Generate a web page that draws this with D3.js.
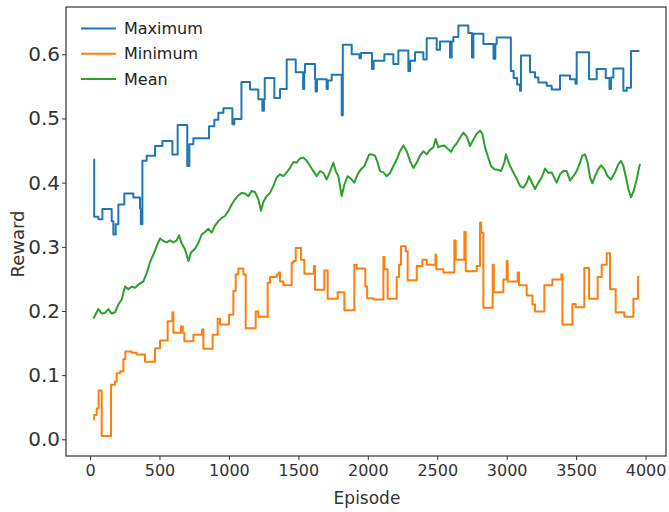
<!DOCTYPE html>
<html>
<head>
  <meta charset="utf-8">
  <title>Reward per episode</title>
  <script src="https://cdn.jsdelivr.net/npm/d3@7"></script>
  <style>
    body { margin: 0; background: #fff; }
    svg { display: block; }
  </style>
</head>
<body>
  <script>
    // Stufen der Maximum-Kurve (Episode, Wert)
    const maxEp = [25, 30, 60, 89, 156, 168, 185, 204, 247, 312, 360, 366, 377, 408, 468, 521, 593, 631, 700, 715,
      744, 857, 895, 924, 960, 1025, 1039, 1090, 1152, 1212, 1241, 1252, 1258, 1327, 1368, 1416, 1481, 1534, 1542, 1548,
      1620, 1624, 1634, 1704, 1712, 1740, 1812, 1820, 1884, 1940, 1950, 2030, 2042, 2119, 2184, 2220, 2292, 2305, 2340, 2400,
      2424, 2496, 2520, 2592, 2604, 2616, 2652, 2724, 2750, 2760, 2832, 2905, 2918, 2928, 3030, 3050, 3075, 3096, 3103, 3168,
      3204, 3228, 3288, 3324, 3384, 3456, 3495, 3504, 3593, 3648, 3713, 3740, 3751, 3768, 3840, 3864, 3895, 3955];
    const maxVal = [0.436, 0.347, 0.343, 0.359, 0.340, 0.319, 0.335, 0.366, 0.383, 0.377, 0.360, 0.335, 0.434, 0.442, 0.457, 0.465, 0.444, 0.490, 0.426, 0.460,
      0.469, 0.488, 0.498, 0.509, 0.516, 0.491, 0.499, 0.557, 0.545, 0.530, 0.512, 0.530, 0.563, 0.532, 0.546, 0.592, 0.572, 0.546, 0.572, 0.585,
      0.561, 0.542, 0.561, 0.546, 0.559, 0.568, 0.505, 0.615, 0.600, 0.594, 0.602, 0.577, 0.590, 0.600, 0.585, 0.606, 0.574, 0.590, 0.603, 0.592,
      0.625, 0.607, 0.620, 0.595, 0.620, 0.627, 0.645, 0.633, 0.595, 0.632, 0.616, 0.593, 0.616, 0.626, 0.574, 0.563, 0.553, 0.543, 0.598, 0.572,
      0.564, 0.556, 0.551, 0.545, 0.567, 0.561, 0.554, 0.603, 0.561, 0.577, 0.563, 0.546, 0.564, 0.578, 0.543, 0.548, 0.605, 0.605];

    // Stufen der Minimum-Kurve
    const minEp = [25, 30, 48, 62, 84, 151, 180, 192, 216, 240, 255, 300, 336, 396, 468, 504, 559, 593, 600, 655,
      668, 679, 744, 806, 816, 883, 919, 936, 1001, 1032, 1049, 1068, 1104, 1121, 1193, 1212, 1279, 1296, 1344, 1361,
      1368, 1392, 1452, 1464, 1481, 1519, 1543, 1612, 1620, 1687, 1711, 1783, 1831, 1903, 1920, 1982, 1995, 2040, 2112, 2120,
      2143, 2208, 2225, 2239, 2273, 2287, 2352, 2393, 2424, 2487, 2493, 2544, 2623, 2633, 2695, 2705, 2784, 2808, 2816, 2832,
      2899, 2907, 2976, 3000, 3007, 3079, 3089, 3144, 3185, 3204, 3271, 3329, 3394, 3401, 3473, 3497, 3559, 3593, 3655, 3684,
      3720, 3744, 3785, 3847, 3912, 3945, 3955];
    const minVal = [0.031, 0.038, 0.048, 0.076, 0.005, 0.085, 0.090, 0.103, 0.106, 0.125, 0.137, 0.135, 0.132, 0.121, 0.142, 0.154, 0.184, 0.198, 0.166, 0.176,
      0.166, 0.153, 0.163, 0.171, 0.141, 0.163, 0.188, 0.179, 0.194, 0.231, 0.257, 0.266, 0.257, 0.173, 0.199, 0.191, 0.244, 0.253, 0.257, 0.260,
      0.246, 0.240, 0.275, 0.278, 0.298, 0.280, 0.258, 0.270, 0.233, 0.263, 0.219, 0.229, 0.201, 0.272, 0.266, 0.238, 0.220, 0.218, 0.284, 0.265,
      0.219, 0.253, 0.272, 0.301, 0.293, 0.248, 0.270, 0.280, 0.272, 0.288, 0.265, 0.260, 0.310, 0.280, 0.323, 0.262, 0.270, 0.338, 0.322, 0.205,
      0.272, 0.229, 0.249, 0.278, 0.246, 0.260, 0.240, 0.224, 0.210, 0.199, 0.240, 0.249, 0.257, 0.179, 0.211, 0.206, 0.267, 0.219, 0.253, 0.272,
      0.290, 0.234, 0.198, 0.191, 0.219, 0.253, 0.253];

    // Mittelwert
    const meanEp = [25, 36, 60, 84, 108, 132, 156, 180, 204, 228, 252, 276, 300, 324, 348, 384, 408, 432, 456, 480,
      504, 528, 552, 576, 600, 624, 641, 660, 684, 708, 727, 756, 780, 804, 828, 852, 876, 900, 924, 948,
      972, 996, 1020, 1044, 1068, 1092, 1116, 1140, 1164, 1188, 1212, 1231, 1248, 1272, 1296, 1320, 1344, 1368, 1392, 1416,
      1440, 1464, 1488, 1512, 1536, 1560, 1584, 1608, 1632, 1656, 1680, 1704, 1728, 1752, 1769, 1788, 1812, 1831, 1855, 1879,
      1903, 1927, 1951, 1975, 1999, 2010, 2028, 2052, 2071, 2088, 2112, 2136, 2160, 2184, 2208, 2232, 2256, 2280, 2304, 2328,
      2352, 2376, 2400, 2424, 2448, 2472, 2489, 2508, 2527, 2551, 2575, 2599, 2616, 2640, 2664, 2688, 2712, 2736, 2760, 2784,
      2808, 2825, 2844, 2863, 2887, 2911, 2935, 2959, 2983, 2995, 3007, 3024, 3048, 3072, 3096, 3120, 3144, 3161, 3180, 3204,
      3228, 3252, 3276, 3300, 3324, 3348, 3360, 3384, 3408, 3432, 3456, 3480, 3504, 3528, 3545, 3564, 3583, 3600, 3617, 3636,
      3660, 3679, 3703, 3727, 3751, 3780, 3804, 3823, 3840, 3857, 3876, 3895, 3914, 3936, 3953, 3960];
    const meanVal = [0.188, 0.193, 0.203, 0.196, 0.197, 0.203, 0.196, 0.198, 0.210, 0.218, 0.238, 0.234, 0.238, 0.236, 0.241, 0.246, 0.259, 0.276, 0.288, 0.301,
      0.313, 0.309, 0.307, 0.310, 0.307, 0.310, 0.318, 0.305, 0.296, 0.278, 0.291, 0.297, 0.306, 0.319, 0.323, 0.328, 0.322, 0.333, 0.340, 0.345,
      0.348, 0.356, 0.366, 0.374, 0.380, 0.384, 0.383, 0.379, 0.387, 0.385, 0.374, 0.356, 0.370, 0.379, 0.384, 0.395, 0.408, 0.413, 0.410, 0.416,
      0.423, 0.432, 0.431, 0.438, 0.439, 0.434, 0.426, 0.418, 0.410, 0.418, 0.415, 0.405, 0.417, 0.431, 0.418, 0.410, 0.379, 0.397, 0.410, 0.406,
      0.400, 0.413, 0.421, 0.426, 0.438, 0.444, 0.444, 0.442, 0.431, 0.418, 0.416, 0.410, 0.415, 0.426, 0.436, 0.449, 0.458, 0.449, 0.434, 0.423,
      0.431, 0.442, 0.449, 0.444, 0.451, 0.455, 0.468, 0.455, 0.457, 0.458, 0.453, 0.448, 0.455, 0.461, 0.470, 0.478, 0.472, 0.457, 0.467, 0.476,
      0.481, 0.476, 0.455, 0.442, 0.426, 0.421, 0.420, 0.418, 0.431, 0.444, 0.436, 0.426, 0.416, 0.406, 0.395, 0.392, 0.400, 0.410, 0.401, 0.390,
      0.400, 0.408, 0.422, 0.415, 0.416, 0.405, 0.400, 0.413, 0.418, 0.418, 0.403, 0.410, 0.418, 0.431, 0.442, 0.444, 0.431, 0.408, 0.399, 0.410,
      0.421, 0.427, 0.421, 0.410, 0.405, 0.416, 0.429, 0.434, 0.426, 0.410, 0.390, 0.377, 0.387, 0.405, 0.423, 0.429];

    const xTicks = [0, 500, 1000, 1500, 2000, 2500, 3000, 3500, 4000];
    const yTicks = [0.0, 0.1, 0.2, 0.3, 0.4, 0.5, 0.6];
    const seriesNames = ["Maximum", "Minimum", "Mean"];
    const colors = ["#1f77b4", "#ff7f0e", "#2ca02c"];

    const w = 669;
    const h = 512;
    const plotLeft = 66, plotRight = 666, plotTop = 7, plotBottom = 456;

    const svg = d3.select("body")
      .append("svg")
      .attr("width", w)
      .attr("height", h)
      .style("font-family", "'DejaVu Sans', sans-serif");

    svg.append("rect").attr("width", w).attr("height", h).attr("fill", "#fff");

    const x = d3.scaleLinear().domain([-173, 4147]).range([plotLeft, plotRight]);
    const y = d3.scaleLinear().domain([-0.026, 0.6737]).range([plotBottom, plotTop]);

    // Linien
    const lineStep = d3.line()
      .x(d => x(d[0]))
      .y(d => y(d[1]))
      .curve(d3.curveStepAfter);
    const lineMean = d3.line()
      .x(d => x(d[0]))
      .y(d => y(d[1]));

    const data = [
      d3.zip(maxEp, maxVal),
      d3.zip(minEp, minVal),
      d3.zip(meanEp, meanVal)
    ];

    data.forEach((pts, i) => {
      svg.append("path")
        .datum(pts)
        .attr("d", i < 2 ? lineStep : lineMean)
        .attr("fill", "none")
        .attr("stroke", colors[i])
        .attr("stroke-width", 2)
        .attr("stroke-linejoin", "round");
    });

    // Achsen
    const xAxis = svg.append("g")
      .attr("transform", `translate(0,${plotBottom})`)
      .call(d3.axisBottom(x).tickValues(xTicks).tickSize(4).tickPadding(5).tickFormat(d3.format("d")));
    xAxis.select(".domain").remove();
    xAxis.selectAll("line").attr("stroke", "#333");
    xAxis.selectAll("text").attr("font-size", 16).attr("fill", "#333").style("font-family", "'DejaVu Sans', sans-serif");

    const yAxis = svg.append("g")
      .attr("transform", `translate(${plotLeft},0)`)
      .call(d3.axisLeft(y).tickValues(yTicks).tickSize(4).tickPadding(2).tickFormat(d3.format(".1f")));
    yAxis.select(".domain").remove();
    yAxis.selectAll("line").attr("stroke", "#333");
    yAxis.selectAll("text").attr("font-size", 20).attr("fill", "#333").style("font-family", "'DejaVu Sans', sans-serif");

    // Rahmen
    svg.append("rect")
      .attr("x", plotLeft).attr("y", plotTop)
      .attr("width", plotRight - plotLeft).attr("height", plotBottom - plotTop)
      .attr("fill", "none")
      .attr("stroke", "#333")
      .attr("stroke-width", 1.2);

    // Achsentitel
    svg.append("text")
      .attr("x", 367).attr("y", 504)
      .attr("text-anchor", "middle")
      .attr("font-size", 17)
      .attr("fill", "#333")
      .text("Episode");

    svg.append("text")
      .attr("transform", "translate(24,244) rotate(-90)")
      .attr("text-anchor", "middle")
      .attr("font-size", 18)
      .attr("fill", "#333")
      .text("Reward");

    // Legende
    const legend = svg.append("g");
    seriesNames.forEach((name, i) => {
      const ly = 28.5 + i * 25.3;
      legend.append("line")
        .attr("x1", 81).attr("x2", 116)
        .attr("y1", ly).attr("y2", ly)
        .attr("stroke", colors[i])
        .attr("stroke-width", 2);
      legend.append("text")
        .attr("x", 124).attr("y", ly)
        .attr("dy", "0.35em")
        .attr("font-size", 16)
        .attr("fill", "#222")
        .text(name);
    });
  </script>
</body>
</html>
